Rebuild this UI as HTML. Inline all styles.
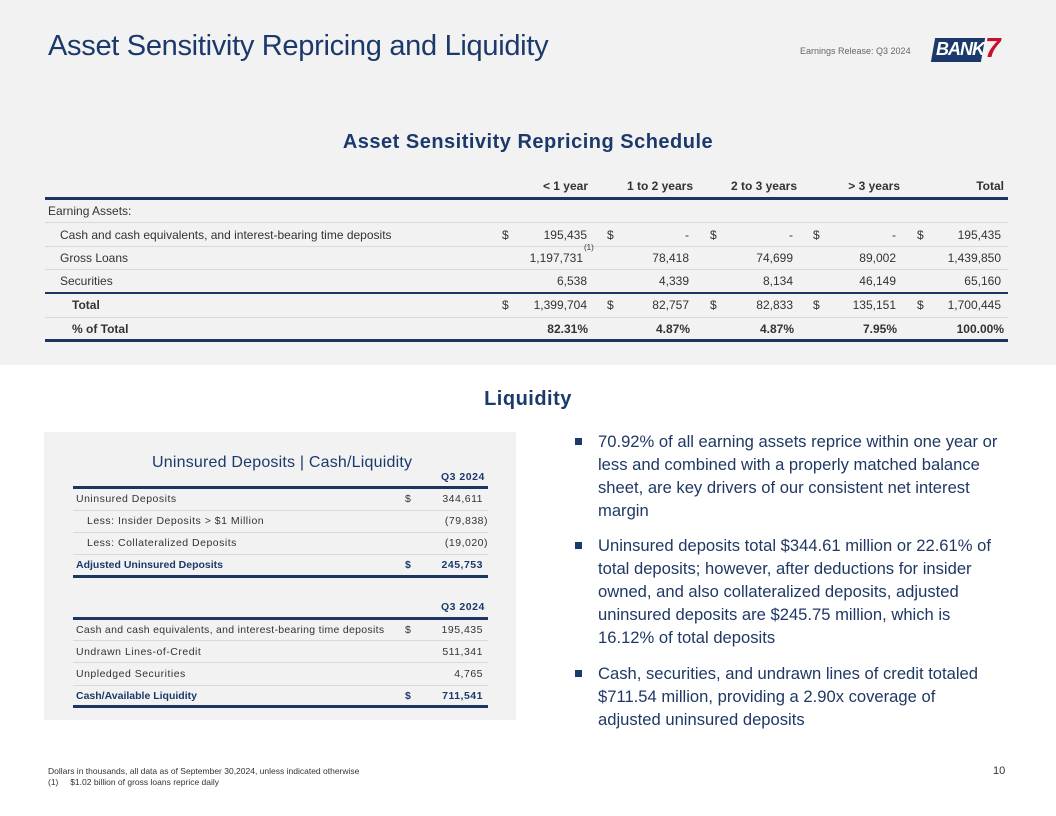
<!DOCTYPE html>
<html><head><meta charset="utf-8"><style>
*{margin:0;padding:0;box-sizing:border-box}
body{width:1056px;height:816px;position:relative;background:#fff;font-family:"Liberation Sans",sans-serif;overflow:hidden}
.a{position:absolute;white-space:nowrap}
.r{text-align:right}
.hl{position:absolute;height:3px;background:#1b3560}
.tl{position:absolute;height:1px;background:#d9d9d9}
.t{font-size:12px;color:#333}
.b{font-weight:bold}
.s{font-size:10.5px;color:#333;letter-spacing:0.5px}
.bl{font-size:16.6px;color:#1f3864;line-height:23px}
</style></head><body>
<div class="a" style="left:0;top:0;width:1056px;height:365px;background:#f2f2f2"></div>
<div class="a" style="left:48px;top:30px;font-size:29px;color:#1b3a6b;letter-spacing:-0.3px">Asset Sensitivity Repricing and Liquidity</div>
<div class="a" style="left:800px;top:46px;font-size:9px;color:#666">Earnings Release: Q3 2024</div>
<div class="a" style="left:933px;top:38px;width:50px;height:24px;background:#1b3a6b;transform:skewX(-10deg)"></div>
<div class="a" style="left:936px;top:39px;font-size:18px;font-weight:bold;font-style:italic;color:#fff;letter-spacing:-1px">BANK</div>
<div class="a" style="left:985px;top:32px;font-size:28px;font-weight:bold;font-style:italic;color:#c8102e">7</div>
<div class="a" style="left:0;top:131px;width:1056px;text-align:center;font-size:20px;font-weight:bold;color:#1b3a6b;letter-spacing:0.5px">Asset Sensitivity Repricing Schedule</div>

<div class="a t b r" style="left:488px;top:179px;width:100px">&lt; 1 year</div>
<div class="a t b r" style="left:593px;top:179px;width:100px">1 to 2 years</div>
<div class="a t b r" style="left:697px;top:179px;width:100px">2 to 3 years</div>
<div class="a t b r" style="left:800px;top:179px;width:100px">&gt; 3 years</div>
<div class="a t b r" style="left:904px;top:179px;width:100px">Total</div>
<div class="hl" style="left:45px;top:197px;width:963px"></div>
<div class="a t" style="left:48px;top:204px">Earning Assets:</div>
<div class="tl" style="left:45px;top:222px;width:963px"></div>
<div class="a t" style="left:60px;top:228px">Cash and cash equivalents, and interest-bearing time deposits</div>
<div class="tl" style="left:45px;top:246px;width:963px"></div>
<div class="a t" style="left:60px;top:251px">Gross Loans</div>
<div class="a" style="left:584px;top:243px;font-size:8px;color:#333">(1)</div>
<div class="tl" style="left:45px;top:269px;width:963px"></div>
<div class="a t" style="left:60px;top:274px">Securities</div>
<div class="hl" style="left:45px;top:292px;width:963px;height:2px"></div>
<div class="a t b" style="left:72px;top:298px">Total</div>
<div class="tl" style="left:45px;top:317px;width:963px"></div>
<div class="a t b" style="left:72px;top:322px">% of Total</div>
<div class="hl" style="left:45px;top:339px;width:963px"></div>

<div class="a t" style="left:502px;top:228px">$</div><div class="a t" style="left:607px;top:228px">$</div><div class="a t" style="left:710px;top:228px">$</div><div class="a t" style="left:813px;top:228px">$</div><div class="a t" style="left:917px;top:228px">$</div>
<div class="a t" style="left:502px;top:298px">$</div><div class="a t" style="left:607px;top:298px">$</div><div class="a t" style="left:710px;top:298px">$</div><div class="a t" style="left:813px;top:298px">$</div><div class="a t" style="left:917px;top:298px">$</div>
<div class="a t r" style="left:487px;top:228px;width:100px">195,435</div><div class="a t r" style="left:589px;top:228px;width:100px">-</div><div class="a t r" style="left:693px;top:228px;width:100px">-</div><div class="a t r" style="left:796px;top:228px;width:100px">-</div><div class="a t r" style="left:901px;top:228px;width:100px">195,435</div>
<div class="a t r" style="left:483px;top:251px;width:100px">1,197,731</div><div class="a t r" style="left:589px;top:251px;width:100px">78,418</div><div class="a t r" style="left:693px;top:251px;width:100px">74,699</div><div class="a t r" style="left:796px;top:251px;width:100px">89,002</div><div class="a t r" style="left:901px;top:251px;width:100px">1,439,850</div>
<div class="a t r" style="left:487px;top:274px;width:100px">6,538</div><div class="a t r" style="left:589px;top:274px;width:100px">4,339</div><div class="a t r" style="left:693px;top:274px;width:100px">8,134</div><div class="a t r" style="left:796px;top:274px;width:100px">46,149</div><div class="a t r" style="left:901px;top:274px;width:100px">65,160</div>
<div class="a t r" style="left:487px;top:298px;width:100px">1,399,704</div><div class="a t r" style="left:589px;top:298px;width:100px">82,757</div><div class="a t r" style="left:693px;top:298px;width:100px">82,833</div><div class="a t r" style="left:796px;top:298px;width:100px">135,151</div><div class="a t r" style="left:901px;top:298px;width:100px">1,700,445</div>
<div class="a t b r" style="left:488px;top:322px;width:100px">82.31%</div><div class="a t b r" style="left:590px;top:322px;width:100px">4.87%</div><div class="a t b r" style="left:694px;top:322px;width:100px">4.87%</div><div class="a t b r" style="left:797px;top:322px;width:100px">7.95%</div><div class="a t b r" style="left:904px;top:322px;width:100px">100.00%</div>

<div class="a" style="left:0;top:388px;width:1056px;text-align:center;font-size:20px;font-weight:bold;color:#1b3a6b;letter-spacing:0.5px">Liquidity</div>

<div class="a" style="left:44px;top:432px;width:472px;height:288px;background:#f2f2f2"></div>
<div class="a" style="left:152px;top:454px;font-size:16px;color:#1b3a6b;letter-spacing:0.2px">Uninsured Deposits | Cash/Liquidity</div>
<div class="a s b" style="left:441px;top:471px;color:#1b3a6b">Q3 2024</div>
<div class="hl" style="left:73px;top:486px;width:415px"></div>
<div class="a s" style="left:76px;top:493px">Uninsured Deposits</div><div class="a s" style="left:405px;top:493px">$</div><div class="a s r" style="left:380px;top:493px;width:103px">344,611</div>
<div class="tl" style="left:73px;top:510px;width:415px"></div>
<div class="a s" style="left:87px;top:515px">Less: Insider Deposits &gt; $1 Million</div><div class="a s r" style="left:385px;top:515px;width:103px">(79,838)</div>
<div class="tl" style="left:73px;top:532px;width:415px"></div>
<div class="a s" style="left:87px;top:537px">Less: Collateralized Deposits</div><div class="a s r" style="left:385px;top:537px;width:103px">(19,020)</div>
<div class="tl" style="left:73px;top:554px;width:415px"></div>
<div class="a s b" style="left:76px;top:559px;color:#1b3a6b;letter-spacing:0">Adjusted Uninsured Deposits</div><div class="a s b" style="left:405px;top:559px;color:#1b3a6b">$</div><div class="a s b r" style="left:380px;top:559px;width:103px;color:#1b3a6b">245,753</div>
<div class="hl" style="left:73px;top:575px;width:415px"></div>

<div class="a s b" style="left:441px;top:601px;color:#1b3a6b">Q3 2024</div>
<div class="hl" style="left:73px;top:617px;width:415px"></div>
<div class="a s" style="left:76px;top:624px;letter-spacing:0.3px">Cash and cash equivalents, and interest-bearing time deposits</div><div class="a s" style="left:405px;top:624px">$</div><div class="a s r" style="left:380px;top:624px;width:103px">195,435</div>
<div class="tl" style="left:73px;top:640px;width:415px"></div>
<div class="a s" style="left:76px;top:646px">Undrawn Lines-of-Credit</div><div class="a s r" style="left:380px;top:646px;width:103px">511,341</div>
<div class="tl" style="left:73px;top:662px;width:415px"></div>
<div class="a s" style="left:76px;top:668px">Unpledged Securities</div><div class="a s r" style="left:380px;top:668px;width:103px">4,765</div>
<div class="tl" style="left:73px;top:685px;width:415px"></div>
<div class="a s b" style="left:76px;top:690px;color:#1b3a6b;letter-spacing:0">Cash/Available Liquidity</div><div class="a s b" style="left:405px;top:690px;color:#1b3a6b">$</div><div class="a s b r" style="left:380px;top:690px;width:103px;color:#1b3a6b">711,541</div>
<div class="hl" style="left:73px;top:705px;width:415px"></div>

<div class="a" style="left:575px;top:438px;width:7px;height:7px;background:#1b3a6b"></div>
<div class="a bl" style="left:598px;top:430px">70.92% of all earning assets reprice within one year or<br>less and combined with a properly matched balance<br>sheet, are key drivers of our consistent net interest<br>margin</div>
<div class="a" style="left:575px;top:542px;width:7px;height:7px;background:#1b3a6b"></div>
<div class="a bl" style="left:598px;top:534px">Uninsured deposits total $344.61 million or 22.61% of<br>total deposits; however, after deductions for insider<br>owned, and also collateralized deposits, adjusted<br>uninsured deposits are $245.75 million, which is<br>16.12% of total deposits</div>
<div class="a" style="left:575px;top:670px;width:7px;height:7px;background:#1b3a6b"></div>
<div class="a bl" style="left:598px;top:662px">Cash, securities, and undrawn lines of credit totaled<br>$711.54 million, providing a 2.90x coverage of<br>adjusted uninsured deposits</div>

<div class="a" style="left:48px;top:766px;font-size:8.5px;color:#333">Dollars in thousands, all data as of September 30,2024, unless indicated otherwise</div>
<div class="a" style="left:48px;top:777px;font-size:8.5px;color:#333">(1)&nbsp;&nbsp;&nbsp;&nbsp;&nbsp;$1.02 billion of gross loans reprice daily</div>
<div class="a" style="left:993px;top:765px;font-size:11px;color:#333">10</div>
</body></html>
